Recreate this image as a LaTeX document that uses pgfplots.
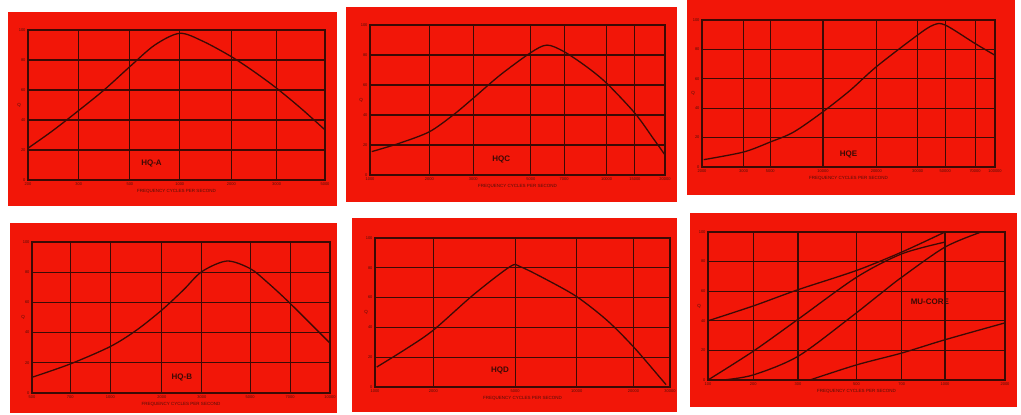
\documentclass[border=0pt]{standalone}
\usepackage{pgfplots}
\pgfplotsset{compat=1.18}
\usepackage{fontspec}
\setmainfont{Liberation Sans}
\definecolor{panelred}{RGB}{242,22,8}
\definecolor{gridc}{RGB}{60,10,5}
\definecolor{labc}{RGB}{80,15,8}
\pgfplotsset{panel/.style={
  scale only axis, xmin=0, xmax=100, ymin=0, ymax=5,
  axis line style={draw=gridc, line width=1.5pt},
  xmajorgrids, ymajorgrids,
  major grid style={draw=gridc, line width=1.1pt},
  major tick length=0pt,
  ytick={0,1,2,3,4,5}, yticklabels={0,20,40,60,80,100},
  tick label style={font=\fontsize{4}{4}\selectfont, text=labc},
  xticklabel style={yshift=1pt},
  yticklabel style={xshift=1pt},
  xlabel={FREQUENCY CYCLES PER SECOND},
  xlabel style={font=\fontsize{4.5}{4.5}\selectfont, text=labc, yshift=3pt},
  ylabel={Q}, ylabel style={font=\fontsize{4.5}{4.5}\selectfont, text=labc, rotate=-90, xshift=9pt},
  axis background/.style={fill=panelred},
  clip=false,
}, crv/.style={draw=gridc, line width=1.3pt, mark=none, smooth, tension=0.5}}
\begin{document}
\begin{tikzpicture}[x=1pt,y=1pt]
\fill[white] (0pt,0pt) rectangle (1021pt,415pt);
\fill[panelred] (8pt,209pt) rectangle (337pt,403pt);
\fill[panelred] (346pt,213pt) rectangle (677pt,408pt);
\fill[panelred] (687pt,220pt) rectangle (1015pt,415pt);
\fill[panelred] (10pt,2pt) rectangle (337pt,192pt);
\fill[panelred] (352pt,3pt) rectangle (677pt,197pt);
\fill[panelred] (690pt,8pt) rectangle (1017pt,202pt);

% Panel 1 HQ-A
\begin{axis}[panel, at={(28pt,235pt)}, anchor=south west, width=297pt, height=150pt,
  xtick={0,17.1,34.3,51.1,68.5,83.7,100},
  xticklabels={200,300,500,1000,2000,3000,5000}]
\addplot[crv] coordinates {(0,1.06) (8,1.62) (16.6,2.28) (25.6,3.0) (34.3,3.78) (42.7,4.5) (51.1,4.89) (59,4.62) (68.5,4.11) (76,3.62) (83.7,3.06) (92,2.38) (100,1.67)};
\node[font=\bfseries\fontsize{8}{8}\selectfont, text=gridc] at (axis cs:41.6,0.56) {HQ-A};
\end{axis}

% Panel 2 HQ-C
\begin{axis}[panel, at={(370pt,240pt)}, anchor=south west, width=295pt, height=150pt,
  xtick={0,20.1,35,54.5,65.8,80.2,89.8,100},
  xticklabels={1000,2000,3000,5000,7000,10000,15000,20000}]
\addplot[crv] coordinates {(0.6,0.78) (10,1.06) (20.1,1.44) (28.2,2.0) (35,2.56) (44.1,3.33) (54.5,4.08) (60,4.33) (65.8,4.11) (73.4,3.61) (80.2,3.06) (89.8,2.06) (96,1.22) (100,0.67)};
\node[font=\bfseries\fontsize{8}{8}\selectfont, text=gridc] at (axis cs:44.5,0.52) {HQC};
\end{axis}

% Panel 3 HQ-E
\begin{axis}[panel, at={(702pt,248pt)}, anchor=south west, width=293pt, height=147pt,
  xtick={0,14.2,23.3,41.3,59.5,73.6,83,93.2,100},
  xticklabels={2000,3000,5000,10000,20000,30000,50000,70000,100000}]
\addplot[crv] coordinates {(0.6,0.25) (14.2,0.51) (23.3,0.85) (31.3,1.19) (41.3,1.88) (50.6,2.61) (59.5,3.41) (73.6,4.49) (79,4.83) (83,4.83) (93.2,4.2) (100,3.8)};
\node[font=\bfseries\fontsize{8}{8}\selectfont, text=gridc] at (axis cs:50,0.43) {HQE};
\end{axis}

% Panel 4 HQ-B
\begin{axis}[panel, at={(32pt,22pt)}, anchor=south west, width=298pt, height=151pt,
  xtick={0,12.8,26.3,43.6,57,73.2,86.6,100},
  xticklabels={500,700,1000,2000,3000,5000,7000,10000}]
\addplot[crv] coordinates {(0,0.52) (12.8,0.96) (26.3,1.54) (35.2,2.09) (43.6,2.75) (50.8,3.41) (57,4.02) (65.4,4.37) (73.2,4.12) (78.8,3.68) (86.6,2.97) (100,1.65)};
\node[font=\bfseries\fontsize{8}{8}\selectfont, text=gridc] at (axis cs:50.3,0.52) {HQ-B};
\end{axis}

% Panel 5 HQ-D
\begin{axis}[panel, at={(375pt,28pt)}, anchor=south west, width=295pt, height=149pt,
  xtick={0,19.8,47.5,68.4,87.6,100},
  xticklabels={1000,2000,5000,10000,20000,30000}]
\addplot[crv] coordinates {(0.6,0.67) (10.7,1.29) (19.8,1.91) (33.3,3.09) (45.8,4.04) (49.2,4.04) (58.2,3.60) (68.4,3.03) (78.5,2.25) (87.6,1.35) (97.7,0.19) (98.5,0.1)};
\node[font=\bfseries\fontsize{8}{8}\selectfont, text=gridc] at (axis cs:42.4,0.54) {HQD};
\end{axis}

% Panel 6 MU-CORE
\begin{axis}[panel, at={(708pt,35pt)}, anchor=south west, width=297pt, height=148pt,
  xtick={0,15.2,30.3,50,65.2,79.8,100},
  xticklabels={100,200,300,500,700,1000,2000}]
\addplot[crv] coordinates {(0,2.0) (15.2,2.5) (30.3,3.05) (50,3.70) (65.2,4.32) (79.8,5.0)};
\addplot[crv] coordinates {(0,0) (15.2,0.97) (30.3,2.05) (50,3.47) (65.2,4.26) (79.8,4.66)};
\addplot[crv] coordinates {(5,0) (15.2,0.17) (30.3,0.8) (47.8,2.1) (57.9,2.9) (65.2,3.47) (79.8,4.49) (92,5.0)};
\addplot[crv] coordinates {(34.3,0) (50,0.51) (65.2,0.91) (79.8,1.36) (100,1.93)};
\node[font=\bfseries\fontsize{8}{8}\selectfont, text=gridc] at (axis cs:74.7,2.65) {MU-CORE};
\end{axis}
\end{tikzpicture}
\end{document}
